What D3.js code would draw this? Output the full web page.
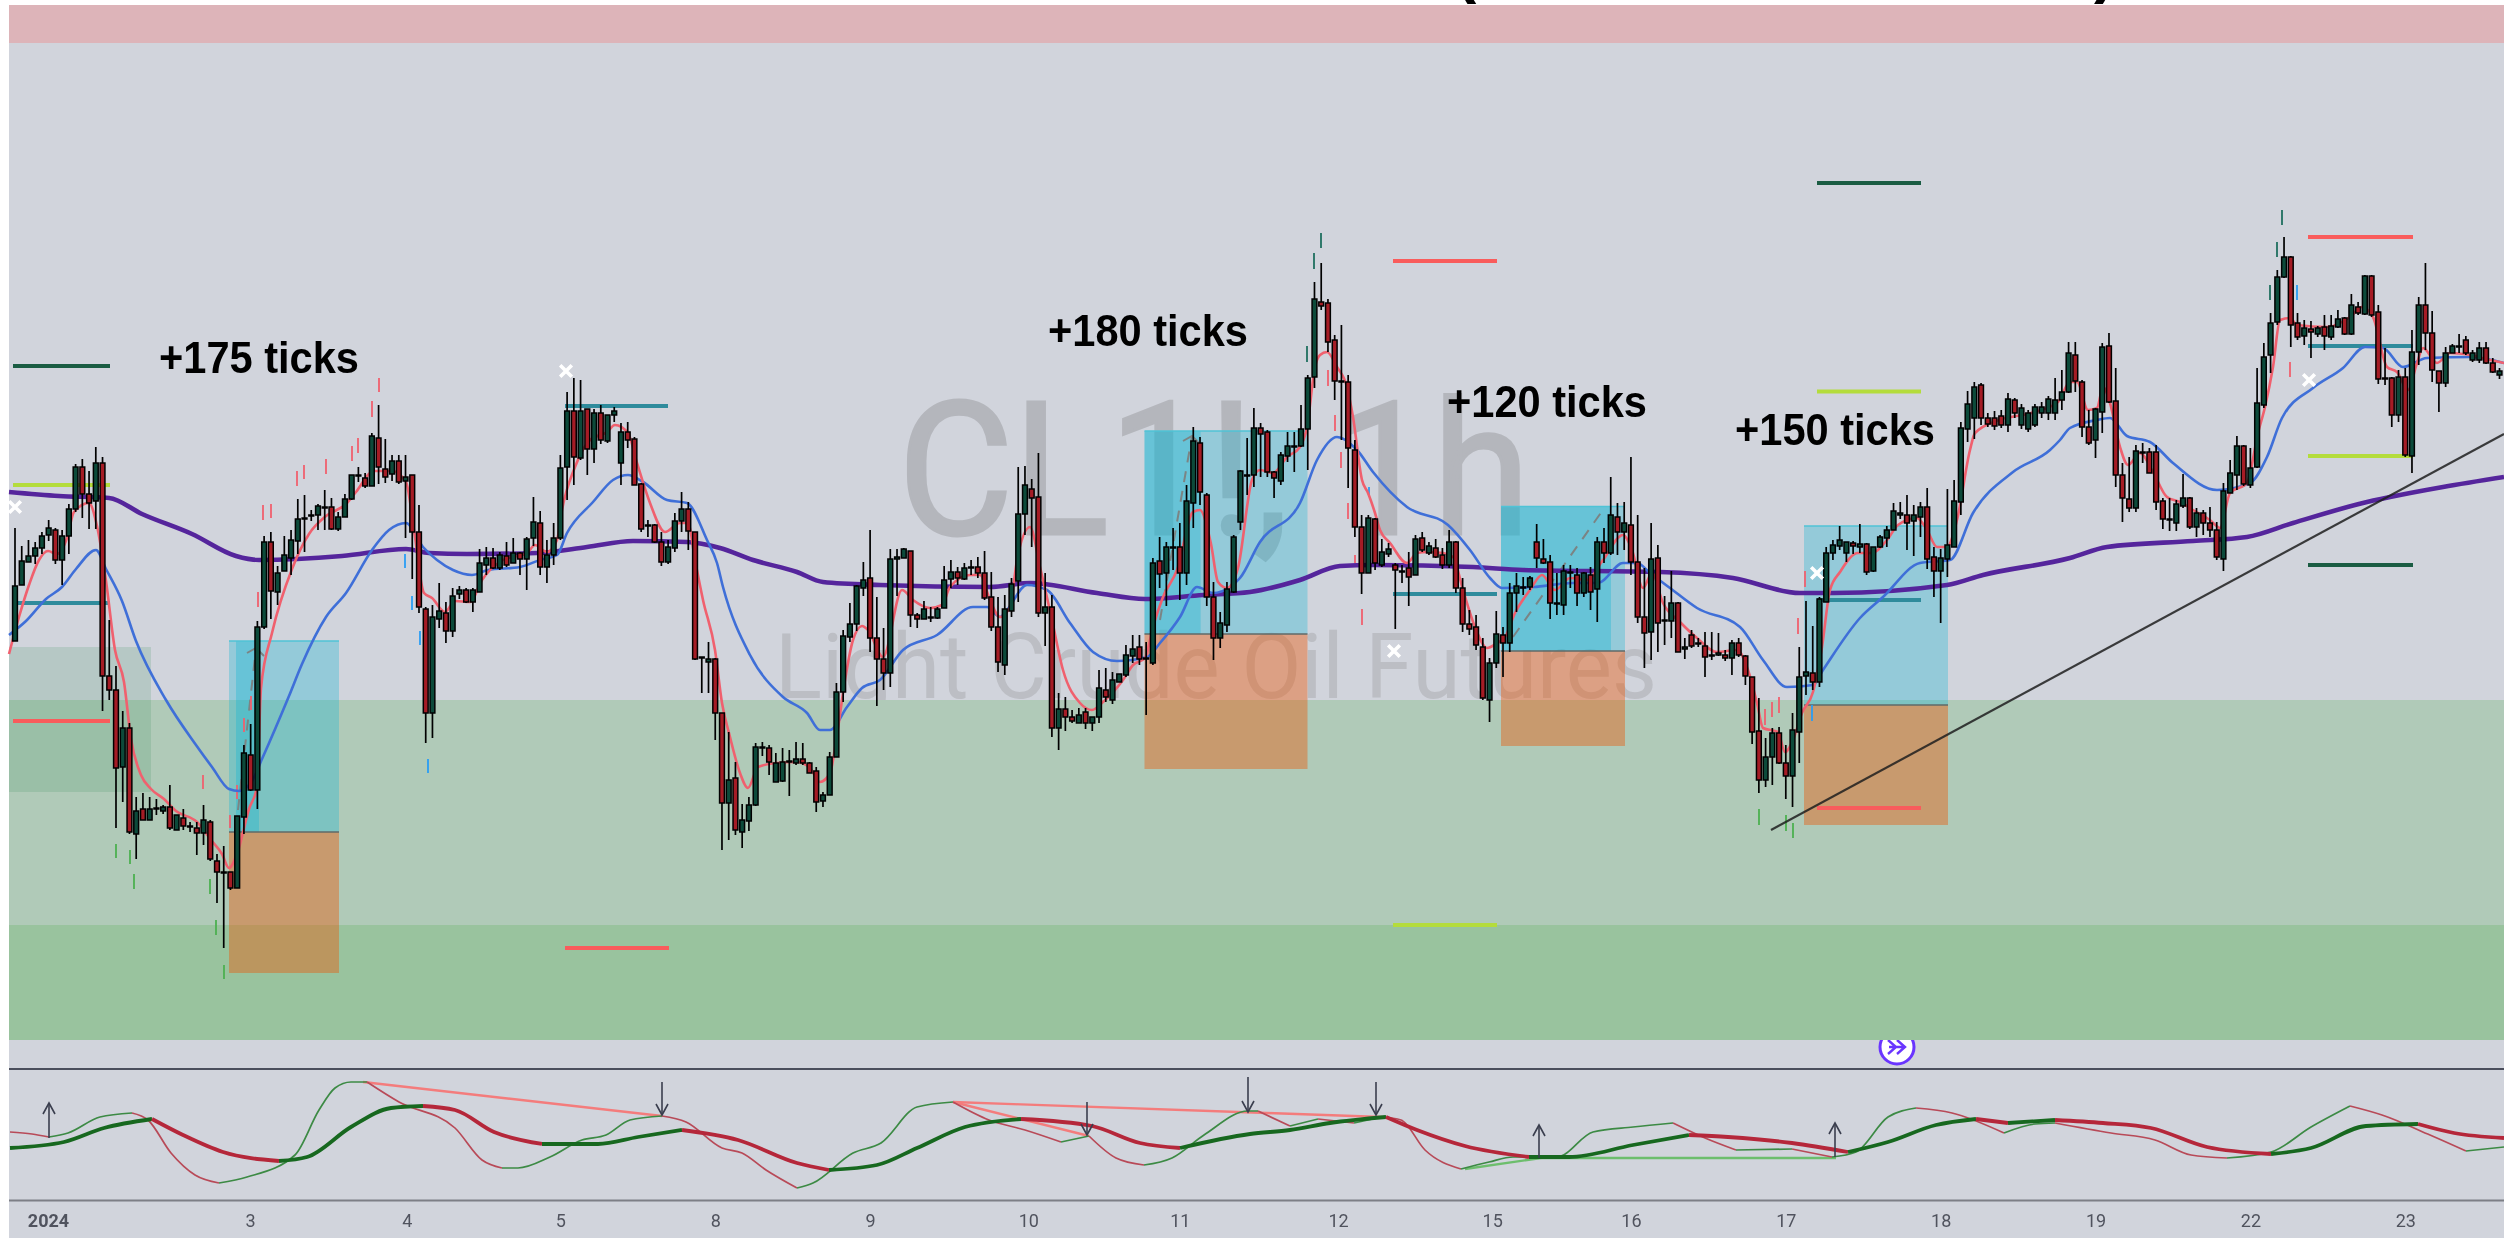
<!DOCTYPE html>
<html><head><meta charset="utf-8">
<style>
html,body{margin:0;padding:0;background:#fff;overflow:hidden}
svg{display:block;filter:blur(.6px)}
</style>
<script src="https://cdn.jsdelivr.net/npm/d3@7"></script>
</head><body><div id="chart"></div>
<script>
// ---- candles, hourly bars; values are ticks above the reference level of the pane ----
const highs=[472,454,460,458,468,480,472,470,496,536,541,529,553,543,380,334,289,277,203,207,203,201,195,215,185,191,178,178,195,180,146,154,128,184,255,276,379,464,468,434,464,470,501,505,490,496,510,502,488,506,525,533,527,567,595,561,545,545,545,525,495,393,
395,417,398,412,414,412,412,451,453,452,448,458,462,448,463,503,489,460,477,545,608,622,620,591,591,595,585,593,577,578,563,517,480,476,468,460,487,508,498,468,343,358,342,287,268,238,196,203,257,258,255,247,252,250,258,257,238,233,208,248,317,
370,397,415,438,470,403,372,451,451,452,449,387,399,393,393,434,440,433,437,440,443,449,428,403,405,422,533,534,521,547,427,405,307,303,290,292,292,283,330,332,328,326,355,365,365,358,442,463,458,472,477,515,573,563,507,418,388,418,465,530,
562,592,577,570,529,548,568,568,595,625,718,737,701,665,675,625,560,485,485,482,461,457,437,435,448,465,468,458,461,452,470,459,422,390,385,362,342,389,373,417,427,423,424,476,461,445,427,435,435,432,428,433,463,472,523,497,498,543,485,432,477,455,
404,429,398,362,370,362,368,368,367,350,360,362,345,323,302,262,272,273,255,287,353,399,374,403,453,460,474,458,459,476,457,453,465,474,497,498,505,495,498,512,453,451,511,520,578,609,618,617,587,589,590,607,602,596,590,596,598,604,622,630,
658,658,620,590,592,657,667,632,537,543,555,557,552,555,502,502,500,526,503,492,490,493,478,517,540,564,555,552,632,657,687,730,763,744,687,680,679,674,685,685,690,683,706,698,725,725,695,652,623,630,632,670,703,737,689,629,653,656,666,664,650,658,658,642,632];
const bodyTops=[414,439,444,452,464,472,470,464,491,533,533,506,537,537,324,310,272,272,189,191,191,192,193,193,185,182,174,172,180,178,139,128,128,184,247,245,373,458,458,427,445,460,481,482,485,494,493,493,483,501,525,525,522,564,562,531,539,539,523,525,468,391,
383,389,387,404,410,410,410,437,442,442,445,444,447,447,461,478,477,445,462,532,589,589,589,591,587,587,585,589,568,568,561,516,475,475,458,453,479,491,491,468,343,341,341,287,220,222,180,195,253,253,252,237,238,239,241,241,237,229,205,243,308,
364,376,414,420,422,362,341,441,443,451,449,385,391,383,391,420,428,428,432,433,433,427,403,373,391,416,486,515,511,503,393,393,291,291,283,285,288,283,312,310,320,326,345,351,353,342,437,439,453,453,453,499,559,557,505,403,377,411,463,529,
525,572,572,568,528,545,554,554,571,622,701,698,697,660,619,618,550,473,482,481,448,451,435,429,432,461,462,454,452,445,458,458,412,376,373,353,337,366,365,407,414,413,422,458,441,438,397,429,428,425,427,425,458,458,485,483,477,475,438,383,441,442,
380,397,397,353,365,357,354,345,347,345,357,357,344,323,269,243,267,267,237,270,323,328,327,401,447,455,460,458,457,456,456,453,463,470,489,487,485,485,493,493,443,442,455,499,572,596,613,615,582,582,584,601,600,592,587,593,593,601,600,608,
647,645,618,573,591,653,654,599,525,501,549,548,548,548,499,481,496,502,502,487,487,477,470,509,527,554,554,532,597,643,677,723,743,743,677,672,671,672,673,674,681,682,695,693,724,724,688,622,622,623,623,648,695,695,667,629,647,654,654,660,647,652,652,637,629];
const bodyBottoms=[359,415,438,444,452,465,440,440,464,491,506,497,499,324,310,232,233,168,166,180,180,191,189,172,170,174,173,167,167,141,128,127,112,112,183,210,210,373,409,408,429,442,459,481,484,485,492,471,471,483,501,525,514,514,533,523,526,518,519,468,393,287,
287,381,369,369,406,398,398,408,435,432,432,435,437,441,441,462,433,433,445,462,533,543,542,551,551,560,559,585,537,560,515,471,474,458,438,438,452,479,469,341,342,338,287,197,197,170,168,179,195,252,238,218,219,238,237,237,227,198,199,205,243,
308,363,376,412,362,341,327,327,441,442,385,381,381,382,382,392,421,422,421,432,427,402,373,338,335,389,419,486,502,387,387,272,272,283,279,277,277,277,283,303,300,318,325,344,341,341,337,426,427,452,427,427,497,508,403,362,362,375,408,478,
524,525,566,528,522,519,544,553,554,571,623,694,658,619,618,552,473,427,427,437,435,446,430,428,423,425,450,447,443,435,435,412,376,371,355,302,300,337,357,357,407,412,413,442,437,397,396,395,427,407,407,408,411,447,447,468,468,438,383,367,368,377,
379,379,348,351,354,356,343,344,345,342,342,345,324,268,220,220,243,237,224,224,268,324,318,318,398,447,454,447,454,453,428,429,453,462,470,485,477,479,483,441,429,429,441,453,498,571,582,582,576,574,575,575,587,575,571,575,587,587,587,600,
608,619,573,557,560,588,598,525,502,492,492,547,527,498,481,480,477,494,473,473,477,470,443,441,507,525,516,515,533,595,645,678,723,675,663,664,668,666,664,663,673,666,666,687,686,685,621,621,585,585,545,544,648,667,630,617,617,647,653,647,640,640,637,628,625];
const lows=[359,415,438,436,446,459,436,415,446,488,482,471,471,289,300,172,198,166,141,180,180,185,186,170,170,170,168,145,155,139,97,52,110,112,166,209,191,371,381,395,429,425,446,448,479,470,470,470,469,483,500,518,512,514,516,517,519,516,462,421,387,257,
262,372,357,363,401,397,388,408,425,431,430,433,437,425,410,454,425,417,435,460,500,515,540,525,537,556,557,578,515,552,515,468,463,457,434,436,448,468,450,340,307,307,260,150,160,165,152,169,194,244,225,218,218,204,235,235,227,188,193,205,243,
298,358,369,404,348,294,310,313,404,442,373,372,381,378,381,392,412,415,420,425,422,400,369,328,325,383,398,465,453,383,354,263,250,269,277,277,271,269,277,298,296,318,323,337,335,285,335,412,394,430,400,415,472,495,394,340,352,368,407,470,
505,513,523,523,502,515,538,528,553,530,612,690,648,600,560,512,463,406,427,430,433,443,371,417,394,425,448,445,442,431,432,407,368,365,350,300,278,332,323,348,388,405,410,432,436,381,385,385,412,394,403,390,378,437,445,445,450,425,377,332,340,348,
355,362,348,341,352,353,323,340,344,339,325,343,315,256,207,213,215,236,201,193,237,305,310,313,398,440,450,438,446,447,425,428,452,453,470,481,450,444,463,431,403,377,423,453,485,558,561,575,573,570,572,568,582,571,568,573,582,580,580,590,
607,608,563,555,542,567,597,513,478,488,488,537,527,490,471,469,469,492,471,463,465,463,440,429,507,510,514,512,532,592,627,675,722,653,660,655,642,663,650,660,672,665,665,685,685,683,616,615,573,578,543,527,635,650,618,588,613,647,647,645,638,637,636,627,621];
const directions=("GGGGGGRGGGRRGRRRGRGRGGGRGRGRGRRGRGGRGGRGGGGGGGGRGGGGRGRRGRGRRR"+
"GGRGGRGGGRGRGRGGRGGGGRGRGRGGGRRRGRRGGGRRGGRRGRGGGGRGGGGRRRGGG"+
"GGGGRRRGGGRRGGGGGRGGRRRRGGGGRRGRGRRGRGGRGGGGRGGRGGRGGRRRGGGG"+
"GGRRRGGGGGGRRRGRRRGRGGRRRGRGRRGRRRRRGGRGGGGRRRGGGRGRGRGRGRRRGR"+
"GGRGRGRGGRGRRRRGGRRGGGRGGGGGRGRGGGGGRGGRRGGGGGGRRRRGRGGGGGGG"+
"GRRRGGRRRRGGRRRGGGRGRRRGGGRGGGGGGRRGRGRGGRGRGRRGRGRGGRRRGGGRGGRRG").split("");

// ---- moving averages, read as [time, ticks] ----
const emaFast=[[9,346],[19,383],[29,415],[39,440],[48,449],[57,446],[67,462],[74,488],[89,497],[97,474],[106,419],[115,350],[124,318],[131,261],[141,225],[151,211],[164,201],[176,189],[197,178],[211,160],[222,146],[229,132],[237,146],[249,191],[257,213],[261,312],[272,367],[292,431],[309,466],[326,484],[346,496],[356,508],[374,529],[392,529],[406,518],[414,470],[424,407],[432,402],[445,388],[455,399],[470,398],[482,420],[503,440],[527,447],[535,455],[547,448],[557,460],[562,490],[575,533],[590,560],[607,568],[615,575],[628,567],[637,537],[650,497],[665,468],[680,477],[688,477],[695,440],[703,400],[715,350],[722,297],[730,263],[740,227],[748,212],[758,233],[777,237],[797,238],[810,232],[820,218],[830,227],[837,265],[845,320],[853,360],[862,374],[868,370],[883,343],[902,410],[913,400],[930,392],[942,395],[950,413],[970,425],[980,425],[990,400],[1000,383],[1010,393],[1017,440],[1030,473],[1040,433],[1052,380],[1063,330],[1080,297],[1092,290],[1103,298],[1123,320],[1133,335],[1145,342],[1153,373],[1163,403],[1177,430],[1193,488],[1200,490],[1211,456],[1218,418],[1227,412],[1238,432],[1252,520],[1260,530],[1273,527],[1287,543],[1300,553],[1307,573],[1315,633],[1320,645],[1327,648],[1337,633],[1347,613],[1353,583],[1362,520],[1368,507],[1375,487],[1380,470],[1390,457],[1407,437],[1417,447],[1427,448],[1443,447],[1453,443],[1463,410],[1475,373],[1487,352],[1497,357],[1505,363],[1515,387],[1530,410],[1542,425],[1555,410],[1570,422],[1587,420],[1603,440],[1623,465],[1632,450],[1643,412],[1652,427],[1663,397],[1680,378],[1697,362],[1717,348],[1737,350],[1748,330],[1757,297],[1763,272],[1778,268],[1785,248],[1793,260],[1802,287],[1813,308],[1822,353],[1830,410],[1840,428],[1858,447],[1872,447],[1887,460],[1898,475],[1917,482],[1927,470],[1937,453],[1947,453],[1957,480],[1970,550],[1975,567],[1999,580],[2031,587],[2058,598],[2070,618],[2077,618],[2088,590],[2097,592],[2103,613],[2110,597],[2120,553],[2128,535],[2140,547],[2153,528],[2167,503],[2180,498],[2193,490],[2210,480],[2220,472],[2230,507],[2247,517],[2258,567],[2265,593],[2273,633],[2280,680],[2290,682],[2297,675],[2327,673],[2350,683],[2362,693],[2373,683],[2387,633],[2397,628],[2408,610],[2417,637],[2423,652],[2437,637],[2450,647],[2470,645],[2490,640],[2504,637]];
const emaSlow=[[9,365],[26,379],[46,401],[62,413],[76,431],[96,450],[106,431],[122,399],[136,359],[166,300],[196,255],[212,233],[229,211],[239,209],[252,219],[262,241],[289,304],[302,336],[326,383],[346,407],[372,450],[389,470],[406,477],[423,453],[437,440],[453,430],[472,425],[488,430],[520,433],[540,440],[557,445],[567,467],[593,498],[613,520],[628,525],[643,518],[667,500],[687,497],[707,460],[717,437],[723,413],[750,345],[783,303],[807,287],[820,270],[830,270],[847,293],[862,312],[880,320],[903,350],[937,365],[973,393],[987,393],[1000,383],[1007,390],[1027,415],[1047,410],[1070,377],[1093,348],[1117,339],[1147,343],[1160,357],[1180,383],[1197,413],[1213,407],[1230,413],[1240,422],[1260,458],[1300,497],[1317,540],[1337,563],[1357,550],[1373,528],[1407,493],[1448,475],[1470,450],[1490,422],[1502,412],[1533,413],[1573,417],[1598,417],[1623,437],[1637,437],[1650,427],[1670,412],[1697,392],[1740,373],[1763,340],[1787,313],[1813,315],[1823,330],[1860,382],[1883,403],[1920,437],[1950,440],[1973,487],[2013,528],[2050,550],[2060,560],[2070,572],[2097,580],[2110,582],[2127,564],[2150,558],[2173,537],[2217,510],[2250,517],[2267,543],[2282,582],[2313,612],[2343,632],[2365,653],[2383,652],[2403,633],[2427,642],[2470,643],[2504,637]];
const ema200=[[9,508],[59,504],[109,502],[142,486],[192,466],[236,444],[259,440],[342,444],[406,451],[429,447],[467,446],[537,447],[587,453],[633,459],[687,458],[720,452],[753,440],[797,428],[823,418],[880,415],[990,413],[1030,417],[1097,407],[1145,401],[1203,405],[1250,408],[1300,420],[1340,434],[1373,435],[1473,433],[1523,430],[1660,428],[1733,422],[1800,407],[1833,407],[1947,415],[1983,425],[2070,442],[2107,453],[2193,459],[2247,463],[2293,477],[2367,498],[2400,505],[2443,513],[2504,523]];

// ---- oscillator pane ----
const oscFast=[[10,3],[32,1],[49,-2],[68,2],[100,18],[132,22],[148,15],[171,-18],[195,-40],[219,-48],[247,-42],[295,-20],[319,25],[335,47],[351,53],[367,53],[399,33],[455,7],[482,-25],[502,-33],[518,-33],[550,-22],[582,-5],[606,0],[630,15],[662,19],[686,13],[722,-13],[742,-18],[766,-35],[797,-53],[813,-48],[853,-18],[881,-8],[917,28],[953,33],[989,15],[1025,5],[1061,-7],[1089,-1],[1116,-23],[1144,-30],[1172,-23],[1204,0],[1248,24],[1258,24],[1290,9],[1318,16],[1354,12],[1382,18],[1401,15],[1425,-15],[1461,-34],[1489,-27],[1513,-22],[1537,-22],[1557,-22],[1593,3],[1633,8],[1673,12],[1705,-3],[1736,-15],[1792,-14],[1832,-22],[1856,-17],[1888,18],[1916,27],[1952,22],[2004,2],[2035,11],[2055,12],[2111,2],[2155,-5],[2191,-20],[2227,-23],[2271,-17],[2311,8],[2350,29],[2382,20],[2430,0],[2466,-16],[2504,-12]];
const oscSlow=[[10,-13],[64,-7],[104,7],[152,16],[183,0],[223,-17],[279,-26],[307,-22],[351,8],[391,27],[423,29],[455,25],[494,3],[542,-9],[598,-9],[638,-2],[682,5],[738,-5],[797,-28],[829,-35],[877,-30],[917,-13],[965,8],[1021,16],[1092,9],[1140,-8],[1180,-13],[1250,1],[1290,5],[1330,12],[1386,18],[1417,5],[1465,-11],[1529,-22],[1569,-22],[1633,-10],[1689,0],[1728,-2],[1792,-8],[1848,-17],[1888,-7],[1936,10],[1976,16],[2008,12],[2055,15],[2103,12],[2151,7],[2207,-12],[2271,-19],[2311,-13],[2366,9],[2418,11],[2454,2],[2504,-3]];
const oscBearLines=[[363,53,662,19],[953,33,1089,-1],[953,33,1382,18]];
const oscBullLines=[[1465,-34,1541,-23],[1541,-23,1836,-23]];
const oscUpArrows=[[49,32,-3],[1539,10,-23],[1835,12,-22]];
const oscDownArrows=[[662,53,20],[1087,33,0],[1248,58,23],[1376,53,20]];

// ---- trade boxes: start, end, target, entry, stop ----
const tradeBoxes=[[229,339,359,168,27],[1144.5,1307.5,569,366,231],[1501,1625,493.5,349,254],[1804,1948,474,295,175]];
const tradeOverlays=[[236,259,359,168],[1144.5,1200.6,569,366],[1501,1611,493.5,349]];
const tradeArrows=[[238,190,256,352,1],[1160,380,1192,564,1],[1513,363,1605,493,0]];
// ---- level segments: start, end, level ----
const levelsDarkGreen=[[13,110,634],[1817,1921,817],[2308,2413,435]];
const levelsLime=[[13,110,515],[1393,1497,75],[1817,1921,608.5],[2308,2413,544]];
const levelsTeal=[[13,110,397],[565,668,594],[1393,1497,406],[1817,1921,400],[2308,2413,654]];
const levelsRed=[[13,110,279],[565,669,52],[1393,1497,739],[1817,1921,192],[2308,2413,763]];
// ---- signal dashes: time, top, bottom ----
const dashesRed=[[379,622,608],[372,599,583],[358,562,547],[352,554,539],[326,541,526],[304,535,521],[297,529,514],[271,496,482],[263,495,480],[258,408,393],[251,304,290],[244,282,268],[237,215,201],[230,185,172],[203,225,211],[1328,630,614],[1335,585,569],[1341,548,532],[1348,497,481],[1355,445,437],[1362,391,375],[1805,429,413],[1798,382,366],[1779,303,287],[1772,298,283],[1765,291,275],[2290,638,623]];
const dashesGreen=[[116,156,142],[130,150,136],[134,126,111],[210,121,106],[216,80,65],[224,35,21],[1759,191,175],[1786,185,169],[1793,177,162]];
const dashesBlue=[[405,446,432],[412,404,390],[420,369,355],[428,241,227],[1369,513,503],[1812,295,279],[2297,715,700]];
const dashesTeal=[[1321,767,752],[1314,747,731],[1307,654,638],[2282,790,775],[2277,758,743],[2270,715,700]];
const exitMarks=[[15,493],[566,629],[1394,349],[1817,427],[2309,620]];
const trendLine=[[1771,170],[2504,566]];
// ---- texts ----
const annotationTexts=["+175 ticks","+180 ticks","+120 ticks","+150 ticks"];
const annotationPlaces=[[159,627],[1048,654],[1447,583],[1735,555]];
const tickLabels=["2024","3","4","5","8","9","10","11","12","15","16","17","18","19","22","23"];
const tickBars=[4.9,34.9,58.2,81,104,127,150.5,173,196.5,219.4,240,263,286,309,332,355];

const W=2504,H=1238;
const c={bg:"#d1d4dc",pink:"#ddb4b9",up:"#0c4a3a",dn:"#a51c25"};
const xT=d3.scaleLinear().domain([0,W]).range([0,W]);
const xB=d3.scaleLinear().domain([0,highs.length-1]).range([15,2499.5]);
const yP=d3.scaleLinear().domain([0,1000]).range([1000,0]);
const yO=d3.scaleLinear().domain([-100,100]).range([1235,1035]);

const svg=d3.select("#chart").append("svg").attr("width",W).attr("height",H);
svg.append("rect").attr("x",9).attr("y",5).attr("width",W-9).attr("height",H-5).attr("fill",c.bg);
svg.append("rect").attr("x",9).attr("y",5).attr("width",W-9).attr("height",38).attr("fill",c.pink);

// clipped title fragments at the very top
[["(",1455],[")",2094]].forEach(([t,x])=>svg.append("text").text(t).attr("x",x).attr("y",-9)
  .attr("font-family","Liberation Sans").attr("font-weight","700").attr("font-size",64).attr("fill","#000"));

// watermark
const wm=svg.append("g").attr("font-family","Roboto");
wm.append("text").text("CL1!, 1h").attr("x",898).attr("y",534).attr("font-size",186).attr("textLength",632).attr("lengthAdjust","spacingAndGlyphs").attr("fill","#b4b6bc").attr("stroke","#b4b6bc").attr("stroke-width",3);
wm.append("text").text("Light Crude Oil Futures").attr("x",775).attr("y",698).attr("font-size",91).attr("textLength",882).attr("lengthAdjust","spacingAndGlyphs").attr("fill","#bcbec4");

// round collapse icon (its top is hidden by the band)
const ico=svg.append("g");
ico.append("circle").attr("cx",1897).attr("cy",1047).attr("r",17).attr("fill","#fff").attr("stroke","#6a35ff").attr("stroke-width",3);
ico.append("path").attr("d","M1888 1040 L1896 1047 L1888 1054 M1897 1040 L1905 1047 L1897 1054 M1889 1047 H1904").attr("fill","none").attr("stroke","#6a35ff").attr("stroke-width",2.4);

// bands
svg.append("rect").attr("x",9).attr("width",W-9).attr("y",yP(300)).attr("height",yP(75)-yP(300)).attr("fill","#b0cab8");
svg.append("rect").attr("x",9).attr("width",W-9).attr("y",yP(75)).attr("height",yP(-40)-yP(75)).attr("fill","#99c39e");
svg.append("rect").attr("x",9).attr("width",xT(151)-9).attr("y",yP(353)).attr("height",yP(208)-yP(353)).attr("fill","#2e8b4e").attr("fill-opacity",.16);

// trade boxes
svg.append("g").selectAll("rect").data(tradeBoxes).join("rect")
 .attr("x",d=>xT(d[0])).attr("width",d=>xT(d[1])-xT(d[0])).attr("y",d=>yP(d[2])).attr("height",d=>yP(d[3])-yP(d[2]))
 .attr("fill","rgb(18,181,210)").attr("fill-opacity",.32);
svg.append("g").selectAll("rect").data(tradeOverlays).join("rect")
 .attr("x",d=>xT(d[0])).attr("width",d=>xT(d[1])-xT(d[0])).attr("y",d=>yP(d[2])).attr("height",d=>yP(d[3])-yP(d[2]))
 .attr("fill","rgb(18,181,210)").attr("fill-opacity",.34);
svg.append("g").selectAll("rect").data(tradeBoxes).join("rect")
 .attr("x",d=>xT(d[0])).attr("width",d=>xT(d[1])-xT(d[0])).attr("y",d=>yP(d[3])).attr("height",d=>yP(d[4])-yP(d[3]))
 .attr("fill","rgb(237,82,0)").attr("fill-opacity",.4);
svg.append("g").selectAll("line").data(tradeBoxes).join("line")
 .attr("x1",d=>xT(d[0])).attr("x2",d=>xT(d[1])).attr("y1",d=>yP(d[3])).attr("y2",d=>yP(d[3]))
 .attr("stroke","#5f6a68").attr("stroke-width",1.6);
svg.append("g").selectAll("line").data(tradeBoxes).join("line")
 .attr("x1",d=>xT(d[0])).attr("x2",d=>xT(d[1])).attr("y1",d=>yP(d[2])).attr("y2",d=>yP(d[2]))
 .attr("stroke","#4fc3d6").attr("stroke-width",1.5);

// dashed trade arrows
const ta=svg.append("g").attr("fill","none").attr("stroke","#7b8484").attr("stroke-width",2);
tradeArrows.forEach(d=>{
  const x1=xT(d[0]),y1=yP(d[1]),x2=xT(d[2]),y2=yP(d[3]);
  ta.append("line").attr("x1",x1).attr("y1",y1).attr("x2",x2).attr("y2",y2).attr("stroke-dasharray","11 9");
  if(d[4]){ta.append("path").attr("d",d3.line()([[x2-9,y2+5],[x2,y2],[x2+8,y2+8]]));}
});

// level segments
[[levelsDarkGreen,"#1a5c43"],[levelsLime,"#b4dc3c"],[levelsTeal,"#2f8b9c"],[levelsRed,"#f95c5c"]].forEach(([arr,col])=>{
  svg.append("g").selectAll("line").data(arr).join("line")
   .attr("x1",d=>xT(d[0])).attr("x2",d=>xT(d[1])).attr("y1",d=>yP(d[2])).attr("y2",d=>yP(d[2]))
   .attr("stroke",col).attr("stroke-width",4);
});

// signal dashes
[[dashesRed,"#f0606e"],[dashesGreen,"#4cb050"],[dashesBlue,"#2a9df4"],[dashesTeal,"#1f6f5f"]].forEach(([arr,col])=>{
  svg.append("g").selectAll("line").data(arr).join("line")
   .attr("x1",d=>xT(d[0])).attr("x2",d=>xT(d[0])).attr("y1",d=>yP(d[1])).attr("y2",d=>yP(d[2]))
   .attr("stroke",col).attr("stroke-width",1.8);
});

// moving averages
const mk=d3.line().x(d=>xT(d[0])).y(d=>yP(d[1])).curve(d3.curveMonotoneX);
svg.append("path").attr("d",mk(ema200)).attr("fill","none").attr("stroke","#55259c").attr("stroke-width",4.6);
svg.append("path").attr("d",mk(emaSlow)).attr("fill","none").attr("stroke","#3f6fd8").attr("stroke-width",2.6);
svg.append("path").attr("d",mk(emaFast)).attr("fill","none").attr("stroke","#f0606e").attr("stroke-width",2.6);

// trend line
svg.append("line").attr("x1",xT(trendLine[0][0])).attr("y1",yP(trendLine[0][1])).attr("x2",xT(trendLine[1][0])).attr("y2",yP(trendLine[1][1]))
 .attr("stroke","#1f1f1f").attr("stroke-width",2.2).attr("stroke-opacity",.85);

// candles
const bars=highs.map((h,i)=>({i,h,l:lows[i],t:bodyTops[i],b:bodyBottoms[i],d:directions[i]}));
const cg=svg.append("g");
cg.selectAll("line").data(bars).join("line")
 .attr("x1",d=>xB(d.i)).attr("x2",d=>xB(d.i)).attr("y1",d=>yP(d.h)).attr("y2",d=>yP(d.l))
 .attr("stroke","#000").attr("stroke-width",1.7);
cg.selectAll("rect").data(bars).join("rect")
 .attr("x",d=>xB(d.i)-2.4).attr("width",4.8).attr("y",d=>yP(d.t)).attr("height",d=>Math.max(1,yP(d.b)-yP(d.t)))
 .attr("fill",d=>d.d==="G"?c.up:c.dn).attr("stroke","#000").attr("stroke-width",1.5);

// exit marks
const sym=d3.symbol().type(d3.symbolX).size(90);
svg.append("g").selectAll("path").data(exitMarks).join("path")
 .attr("d",sym).attr("transform",d=>`translate(${xT(d[0])},${yP(d[1])})`)
 .attr("fill","none").attr("stroke","#fff").attr("stroke-width",3.6);

// annotations
svg.append("g").selectAll("text").data(annotationTexts).join("text").text(d=>d)
 .attr("x",(d,i)=>xT(annotationPlaces[i][0])).attr("y",(d,i)=>yP(annotationPlaces[i][1]))
 .attr("font-family","Liberation Sans").attr("font-weight","700").attr("font-size",45)
 .attr("textLength",200).attr("lengthAdjust","spacingAndGlyphs").attr("fill","#000");

// oscillator pane
svg.append("line").attr("x1",9).attr("x2",W).attr("y1",1069).attr("y2",1069).attr("stroke","#4a4e5c").attr("stroke-width",2);
svg.append("line").attr("x1",9).attr("x2",W).attr("y1",1200.5).attr("y2",1200.5).attr("stroke","#7d7f86").attr("stroke-width",2);
const osc=d3.line().x(d=>xT(d[0])).y(d=>yO(d[1])).curve(d3.curveMonotoneX);
function colouredRuns(pts,up,dn,w){
  let run=[pts[0]],rising=pts[1][1]>=pts[0][1];
  const flush=()=>svg.append("path").attr("d",osc(run)).attr("fill","none").attr("stroke",rising?up:dn).attr("stroke-width",w);
  for(let i=1;i<pts.length;i++){
    const r=pts[i][1]>=pts[i-1][1];
    if(r!==rising){flush();run=[pts[i-1]];rising=r;}
    run.push(pts[i]);
  }
  flush();
}
[[oscBearLines,"#f47c7c"],[oscBullLines,"#6dbe6d"]].forEach(([arr,col])=>{
  svg.append("g").selectAll("line").data(arr).join("line")
   .attr("x1",d=>xT(d[0])).attr("y1",d=>yO(d[1])).attr("x2",d=>xT(d[2])).attr("y2",d=>yO(d[3]))
   .attr("stroke",col).attr("stroke-width",2.4);
});
colouredRuns(oscFast,"#3c8a44","#b84a58",1.7);
colouredRuns(oscSlow,"#17681f","#b5273a",3.8);
const arrows=svg.append("g").attr("fill","none").attr("stroke","#3a3e4e").attr("stroke-width",1.6);
oscUpArrows.forEach(d=>{const x=xT(d[0]),a=yO(d[1]),b=yO(d[2]);
  arrows.append("line").attr("x1",x).attr("x2",x).attr("y1",a).attr("y2",b);
  arrows.append("path").attr("d",d3.line()([[x-6,a+11],[x,a],[x+6,a+11]]));});
oscDownArrows.forEach(d=>{const x=xT(d[0]),a=yO(d[1]),b=yO(d[2]);
  arrows.append("line").attr("x1",x).attr("x2",x).attr("y1",a).attr("y2",b);
  arrows.append("path").attr("d",d3.line()([[x-6,b-11],[x,b],[x+6,b-11]]));});

// time axis
const axisG=svg.append("g").attr("transform","translate(0,1208)")
 .call(d3.axisBottom(xB).tickValues(tickBars).tickSize(0).tickPadding(6).tickFormat((d,i)=>tickLabels[i]));
axisG.select(".domain").remove();
axisG.selectAll("text").attr("font-family","Roboto").attr("font-size",18).attr("fill","#50535e")
 .attr("font-weight",(d,i)=>i===0?700:400);
</script></body></html>
